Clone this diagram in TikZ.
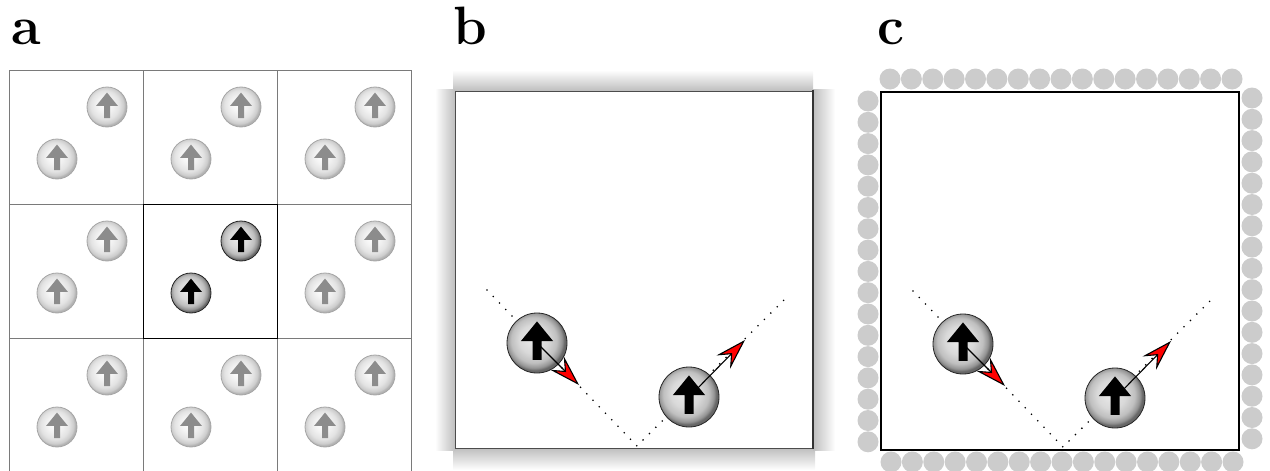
\documentclass[tikz,border=0pt]{standalone}
\usepackage{xcolor}
\usepackage{tikz}
\usetikzlibrary{
  arrows.meta,
  shapes,
  positioning,
  calc,
  backgrounds
}
\definecolor{bxGrid}{HTML}{7A7A7A}
\definecolor{bxWall}{HTML}{CCCCCC}
\definecolor{bxShadow}{HTML}{BEBEBE}
\definecolor{bxVel}{HTML}{FF0000}
\definecolor{bxGhost}{HTML}{8C8C8C}
\pgfdeclareradialshading{spinlight}{\pgfpoint{-4bp}{4bp}}{
  color(0bp)=(white); color(10bp)=(white!95!black); color(18bp)=(white!89!black);
  color(23bp)=(white!80!black); color(25bp)=(white!70!black); color(50bp)=(white!70!black)}
\pgfdeclareradialshading{spindark}{\pgfpoint{-4bp}{4bp}}{
  color(0bp)=(white!92!black); color(12bp)=(white!85!black); color(19bp)=(white!75!black);
  color(23bp)=(white!58!black); color(25bp)=(white!40!black); color(50bp)=(white!40!black)}
\tikzset{
  spin/.style={
    circle, inner sep=0pt, draw=black!85, line width=0.8pt, shade, shading=spindark
  },
  spinbig/.style={spin, minimum size=60pt},
  spinsmall/.style={spin, minimum size=40pt},
  ghost/.style={spinsmall, draw=black!35, shading=spinlight},
  spin arrow/.pic={
    \fill (0,-0.72) -- (0.54,-0.06) -- (0.15,-0.06) -- (0.15,0.56)
      -- (-0.15,0.56) -- (-0.15,-0.06) -- (-0.54,-0.06) -- cycle;
  },
  velocity/.style={
    -{Stealth[length=31pt, width=19pt, inset=11pt, fill=bxVel]},
    line width=1.1pt, black
  },
  traj/.style={line width=1.8pt, line cap=round, dash pattern=on 0pt off 9pt, black},
  wallatom/.style={circle, fill=bxWall, minimum size=21pt, inner sep=0pt},
  gridline/.style={draw=bxGrid, line width=0.8pt},
  shadowband/.style={draw=none},
  panellabel/.style={
    font=\fontsize{54}{54}\selectfont\bfseries, inner sep=0pt, anchor=base west
  }
}

\begin{document}
\begin{tikzpicture}[x=1pt, y=-1pt]
  \useasboundingbox (0,0) rectangle (1270,471);

  % periodic images
  \node[panellabel] (la) at (11,44) {a};
  \foreach \k in {0,1,2}
    \draw[gridline] (9,70+134*\k) -- (411,70+134*\k);
  \foreach \k in {0,...,3}
    \draw[gridline] (9+134*\k,70) -- (9+134*\k,471);
  \draw[black, line width=1pt] (143,204) rectangle (277,338);
  \foreach \col/\row in {0/0,1/0,2/0,0/1,2/1,0/2,1/2,2/2} {
    \node[ghost] (g\col\row u) at (107+134*\col,107+134*\row) {};
    \node[ghost] (g\col\row d) at (57+134*\col,159+134*\row) {};
    \pic[scale=20, bxGhost] at (g\col\row u) {spin arrow};
    \pic[scale=20, bxGhost] at (g\col\row d) {spin arrow};
  }
  \node[spinsmall] (cu) at (241,241) {};
  \node[spinsmall] (cd) at (191,293) {};
  \pic[scale=20, black] at (cu) {spin arrow};
  \pic[scale=20, black] at (cd) {spin arrow};

  % reflecting walls
  \node[panellabel] (lb) at (453,45) {b};
  \shade[shadowband, top color=white, bottom color=bxShadow] (453,70) rectangle (813,91);
  \shade[shadowband, top color=bxShadow, bottom color=white] (453,448) rectangle (815,470);
  \shade[shadowband, left color=white, right color=bxShadow] (435,89) rectangle (455,450);
  \shade[shadowband, left color=bxShadow, right color=white] (813,89) rectangle (835,450);
  \fill[white] (455,91) rectangle (813,448);
  \draw[black!70, line width=0.9pt] (813,448) -- (455,448) -- (455,91) -- (813,91);
  \draw[black!80, line width=2pt] (813,90) -- (813,449);

  % wall of fixed particles
  \node[panellabel] (lc) at (877,44) {c};
  \foreach \k in {0,...,16} {
    \node[wallatom] (wt\k) at (890+21.375*\k,79) {};
    \node[wallatom] (wb\k) at (891+21.375*\k,462) {};
    \node[wallatom] (wl\k) at (868,101+21.3*\k) {};
    \node[wallatom] (wr\k) at (1252,98+21.3*\k) {};
  }
  \draw[black, line width=1.3pt] (881,92) rectangle (1239,450);

  \foreach \p/\dx/\dy in {b/0/0, c/426/1} {
    \begin{scope}[shift={(\dx,\dy)}]
      \coordinate (\p start) at (487,290);
      \coordinate (\p bounce) at (637,446);
      \coordinate (\p end) at (789,295);
      \draw[traj] (\p start) -- (\p bounce) -- (\p end);
      \node[spinbig] (\p1) at (537,343) {};
      \node[spinbig] (\p2) at (689,397) {};
      \pic[scale=30, black] at (\p1) {spin arrow};
      \pic[scale=30, black] at (\p2) {spin arrow};
      \coordinate (\p v1) at (579,385);
      \coordinate (\p v2) at (745,340);
      \draw[velocity] (\p1.center) -- (\p v1);
      \draw[velocity] (\p2.center) -- (\p v2);
    \end{scope}
  }
\end{tikzpicture}
\end{document}
